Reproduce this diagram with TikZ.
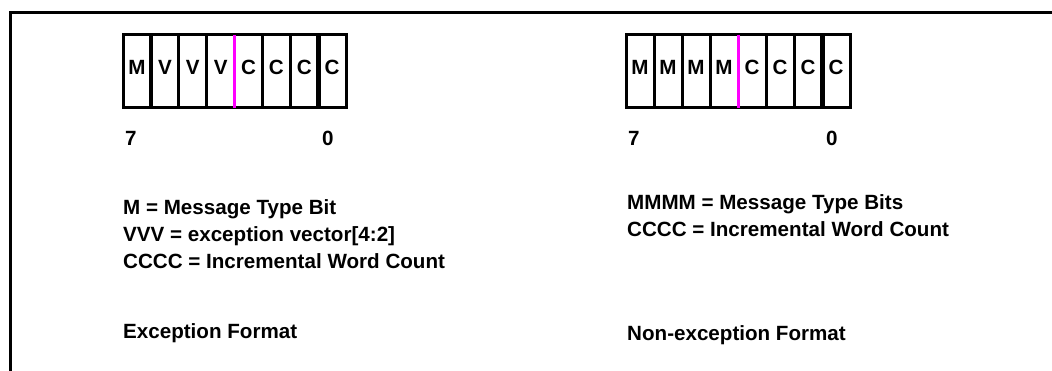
\documentclass[tikz,border=0pt]{standalone}
\usepackage{fontspec}
\setmainfont{Liberation Sans}
\definecolor{mag}{RGB}{255,0,255}
\begin{document}
\begin{tikzpicture}[x=1pt,y=-1pt,
  cell/.style={draw=black,line width=3pt,minimum width=28pt,minimum height=73pt,inner sep=0pt,outer sep=0pt,anchor=north west},
  bitlbl/.style={font=\fontsize{20.6}{27}\selectfont\bfseries,anchor=base,inner sep=0pt},
  txt/.style={font=\fontsize{20.6}{27}\selectfont\bfseries,anchor=base west,inner sep=0pt},
  divider/.style={line width=5pt},
  split/.style={draw=mag,line width=3pt}]
\useasboundingbox (0,0) rectangle (1052,371);
\fill[white] (0,0) rectangle (1052,371);
% frame
\draw[line width=3pt] (10,371) -- (10,13) -- (1052,13);
% left register
\foreach \i/\l in {0/M,1/V,2/V,3/V,4/C,5/C,6/C,7/C}{
  \node[cell] (L\i) at (123+27.875*\i,35) {};
  \node[bitlbl] (LT\i) at (L\i.center |- 0,75) {\l};
}
\draw[divider] (L7.north west) -- (L7.south west);
\draw[split] (L4.north west) -- (L4.south west);
% right register
\foreach \i/\l in {0/M,1/M,2/M,3/M,4/C,5/C,6/C,7/C}{
  \node[cell] (R\i) at (626+28*\i,35) {};
  \node[bitlbl] (RT\i) at (R\i.center |- 0,75) {\l};
}
\draw[divider] (R7.north west) -- (R7.south west);
\draw[split] (R4.north west) -- (R4.south west);
% bit numbers
\node[txt] (L7n) at (125,146) {7};
\node[txt] (L0n) at (322,146) {0};
\node[txt] (R7n) at (628,146) {7};
\node[txt] (R0n) at (826,146) {0};
% legends
\node[txt] (la) at (123,215) {M = Message Type Bit};
\node[txt] (lb) at (123,242) {VVV = exception vector[4:2]};
\node[txt] (lc) at (123,269) {CCCC = Incremental Word Count};
\node[txt] (lf) at (123,338) {Exception Format};
\node[txt] (ra) at (627,210) {MMMM = Message Type Bits};
\node[txt] (rb) at (627,237) {CCCC = Incremental Word Count};
\node[txt] (rf) at (627,341) {Non-exception Format};
\end{tikzpicture}
\end{document}
